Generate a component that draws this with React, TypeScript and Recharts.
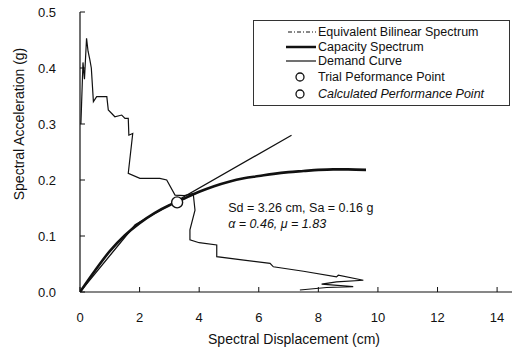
import React from "react";
import { LineChart, Line, XAxis, YAxis, Scatter, ReferenceDot } from "recharts";

// capacity spectrum (Sd cm, Sa g)
const capacitySd = [0, 0.5, 1, 1.5, 2, 2.5, 3, 3.26, 3.5, 4, 4.5, 5, 5.5, 6, 6.5, 7, 7.5, 8, 8.5, 9, 9.6];
const capacitySa = [0, 0.038, 0.073, 0.101, 0.123, 0.141, 0.155, 0.161, 0.167, 0.179, 0.189, 0.197, 0.203, 0.207, 0.211, 0.214, 0.216, 0.218, 0.219, 0.219, 0.218];

// equivalent bilinear spectrum
const bilinearSd = [0, 1.85, 7.1];
const bilinearSa = [0, 0.12, 0.28];

// demand curve (path order, not sorted)
const demandSd = [0.03, 0.1, 0.15, 0.22, 0.27, 0.33, 0.38, 0.45, 0.56, 0.9, 0.95, 1.17, 1.4, 1.51, 1.62, 1.64, 1.77, 1.62, 2.01, 2.68, 2.91, 3.19, 3.5, 3.8, 3.86, 3.69, 3.69, 4.0, 4.59, 4.59, 5.5, 6.38, 6.49, 7.5, 8.61, 8.67, 9.51, 8.61, 8.11, 9.17, 8.28, 7.38];
const demandSa = [0.3, 0.41, 0.38, 0.453, 0.43, 0.415, 0.4, 0.34, 0.349, 0.349, 0.325, 0.313, 0.316, 0.31, 0.31, 0.28, 0.283, 0.212, 0.203, 0.203, 0.2, 0.173, 0.172, 0.176, 0.146, 0.111, 0.093, 0.088, 0.084, 0.063, 0.057, 0.051, 0.045, 0.037, 0.027, 0.03, 0.021, 0.018, 0.014, 0.0095, 0.008, 0.0036];

// performance point
const perfSd = [3.26];
const perfSa = [0.16];

const xTicks = [0, 2, 4, 6, 8, 10, 12, 14];
const yTicks = [0, 0.1, 0.2, 0.3, 0.4, 0.5];

const legendItems = [
  { name: "Equivalent Bilinear Spectrum", kind: "dashdot", italic: false },
  { name: "Capacity Spectrum", kind: "thick", italic: false },
  { name: "Demand Curve", kind: "thin", italic: false },
  { name: "Trial Peformance Point", kind: "circle", italic: false },
  { name: "Calculated Performance Point", kind: "circle", italic: true },
];

const INK = "#111";
const FONT = "'Liberation Sans', Arial, Helvetica, sans-serif";

const zip = (xs: number[], ys: number[]) => xs.map((x, i) => ({ sd: x, sa: ys[i] }));

const capacity = zip(capacitySd, capacitySa);
const bilinear = zip(bilinearSd, bilinearSa);
const demand = zip(demandSd, demandSa);
const perf = zip(perfSd, perfSa);

function XTick(props: any) {
  const { x, y, payload } = props;
  return (
    <g>
      <line x1={x} x2={x} y1={y} y2={y - 5} stroke={INK} />
      <text x={x} y={y + 30} textAnchor="middle" fontSize={13} fill={INK} fontFamily={FONT}>
        {payload.value}
      </text>
    </g>
  );
}

function YTick(props: any) {
  const { x, y, payload } = props;
  return (
    <g>
      <line x1={x} x2={x + 5} y1={y} y2={y} stroke={INK} />
      <text x={x - 24} y={y} dy="0.36em" textAnchor="end" fontSize={13} fill={INK} fontFamily={FONT}>
        {Number(payload.value).toFixed(1)}
      </text>
    </g>
  );
}

function Sample({ kind }: { kind: string }) {
  return (
    <svg width={32} height={12} style={{ display: "block" }}>
      {kind === "dashdot" && <line x1={2} x2={30} y1={6} y2={6} stroke={INK} strokeWidth={1} strokeDasharray="4 2 1 2" />}
      {kind === "thick" && <line x1={0} x2={30} y1={6} y2={6} stroke={INK} strokeWidth={2.5} />}
      {kind === "thin" && <line x1={0} x2={30} y1={6} y2={6} stroke={INK} strokeWidth={1.2} />}
      {kind === "circle" && <circle cx={14} cy={6} r={4} fill="#fff" stroke={INK} strokeWidth={1.3} />}
    </svg>
  );
}

function Annotation(props: any) {
  const { viewBox } = props;
  const cx = viewBox.x;
  const cy = viewBox.y;
  return (
    <g fontFamily={FONT} fontSize={12.5} fill={INK}>
      <text x={cx + 51} y={cy + 10} fill={INK}>Sd = 3.26 cm, Sa = 0.16 g</text>
      <text x={cx + 51} y={cy + 26} fill={INK} fontStyle="italic">α = 0.46, μ = 1.83</text>
    </g>
  );
}

export default function App() {
  return (
    <div style={{ position: "absolute", left: 0, top: 0, width: 521, height: 352, background: "#fff", fontFamily: FONT }}>
      <LineChart width={521} height={352} margin={{ top: 12, right: 9, bottom: 0, left: 0 }}>
        <XAxis
          dataKey="sd"
          type="number"
          domain={[0, 14.5]}
          ticks={xTicks}
          height={60}
          tickLine={false}
          tickSize={0}
          tickMargin={0}
          tick={<XTick />}
          axisLine={{ stroke: INK, strokeWidth: 1.2 }}
          allowDataOverflow
          label={{
            content: (p: any) => (
              <text
                x={p.viewBox.x + p.viewBox.width / 2 - 2}
                y={p.viewBox.y + 52}
                textAnchor="middle"
                fontSize={14}
                fill={INK}
                fontFamily={FONT}
              >
                Spectral Displacement (cm)
              </text>
            ),
          }}
        />
        <YAxis
          dataKey="sa"
          type="number"
          domain={[0, 0.5]}
          ticks={yTicks}
          width={80}
          tickLine={false}
          tickSize={0}
          tickMargin={0}
          tick={<YTick />}
          axisLine={{ stroke: INK, strokeWidth: 1.2 }}
          allowDataOverflow
          label={{
            content: (p: any) => (
              <text
                x={19}
                y={p.viewBox.y + p.viewBox.height / 2 - 28}
                textAnchor="middle"
                fontSize={14}
                fill={INK}
                fontFamily={FONT}
                transform={`rotate(-90 19 ${p.viewBox.y + p.viewBox.height / 2 - 28})`}
                dy="0.35em"
              >
                Spectral Acceleration (g)
              </text>
            ),
          }}
        />
        <Line data={demand} dataKey="sa" type="linear" stroke={INK} strokeWidth={1.2} dot={false} isAnimationActive={false} />
        <Line data={bilinear} dataKey="sa" type="linear" stroke={INK} strokeWidth={1.3} dot={false} isAnimationActive={false} />
        <Line data={capacity} dataKey="sa" type="monotone" stroke={INK} strokeWidth={2.6} dot={false} isAnimationActive={false} />
        <Scatter
          data={perf}
          dataKey="sa"
          fill="#fff"
          isAnimationActive={false}
          shape={(p: any) => <circle cx={p.cx} cy={p.cy} r={5.5} fill="#fff" stroke={INK} strokeWidth={1.4} />}
        />
        <ReferenceDot x={perfSd[0]} y={perfSa[0]} r={0} stroke="none" label={<Annotation />} />
      </LineChart>
      <div
        style={{
          position: "absolute",
          left: 253,
          top: 20,
          width: 257,
          height: 86,
          boxSizing: "border-box",
          border: "1px solid #333",
          background: "#fff",
          paddingTop: 4,
        }}
      >
        {legendItems.map((it, i) => (
          <div
            key={it.name}
            style={{
              display: "flex",
              alignItems: "center",
              height: i < 3 ? 14.5 : 17,
              paddingLeft: 32,
              fontSize: 12.5,
              color: INK,
              fontStyle: it.italic ? "italic" : "normal",
              lineHeight: "14px",
            }}
          >
            <Sample kind={it.kind} />
            <span>{it.name}</span>
          </div>
        ))}
      </div>
    </div>
  );
}
